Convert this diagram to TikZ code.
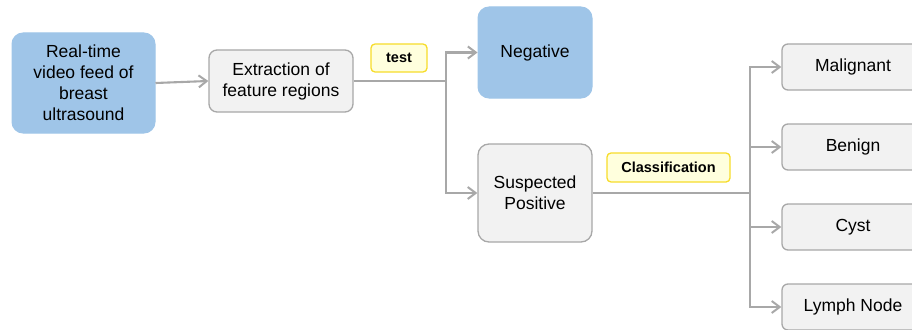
\documentclass[tikz,border=0pt]{standalone}
\usepackage{fontspec}
\setmainfont{Liberation Sans}
\usetikzlibrary{arrows.meta}

\definecolor{boxblue}{HTML}{9FC5E8}
\definecolor{boxgray}{HTML}{F2F2F2}
\definecolor{edgegray}{HTML}{A8A8A8}
\definecolor{tagfill}{HTML}{FFFFDD}
\definecolor{tagedge}{HTML}{F7DC2A}

\tikzset{
    bluebox/.style={draw=boxblue, fill=boxblue, rounded corners=11pt, line width=1pt,
        align=center, inner sep=0pt, font=\fontsize{17.5}{21}\selectfont},
    graybox/.style={draw=edgegray, fill=boxgray, rounded corners=8pt, line width=1.3pt,
        align=center, inner sep=0pt, font=\fontsize{17.5}{21}\selectfont},
    tag/.style={draw=tagedge, fill=tagfill, rounded corners=4pt, line width=1.3pt,
        inner sep=0pt, font=\bfseries\fontsize{14.5}{17}\selectfont},
    link/.style={draw=edgegray, line width=2.1pt},
    arrow/.style={link, -{Straight Barb[length=8pt,width=12pt,line width=2pt]}}
}

\begin{document}
\begin{tikzpicture}[x=1pt,y=-1pt]
    \useasboundingbox (0,0) rectangle (912,329);

    % input and feature step
    \node[bluebox, minimum width=143pt, minimum height=100pt] (feed) at (83.5,83)
        {Real-time\\video feed of\\breast\\ultrasound};
    \node[graybox, minimum width=144pt, minimum height=62pt] (extract) at (281,81)
        {Extraction of\\feature regions};

    % test outcomes
    \node[bluebox, minimum width=114pt, minimum height=91pt] (neg) at (535,52.5) {Negative};
    \node[graybox, minimum width=114pt, minimum height=98pt, rounded corners=11pt] (susp) at (535,193)
        {Suspected\\Positive};

    % classes
    \foreach \name/\txt/\y in {mal/Malignant/67, ben/Benign/147, cyst/Cyst/227, lymph/Lymph Node/307}
        \node[graybox, minimum width=142pt, minimum height=46pt, rounded corners=6pt] (\name) at (853,\y) {\txt};

    % edge tags
    \node[tag, minimum width=56pt, minimum height=28pt] (testtag) at (399,58) {test};
    \node[tag, minimum width=123pt, minimum height=29pt] (classtag) at (668.5,167.5) {Classification};

    \coordinate (split1) at (446,81);
    \coordinate (split2) at (750,193);

    \draw[arrow] (feed.east) -- (extract.west);
    \draw[link] (extract.east) -- (split1);
    \draw[arrow] (split1) |- (neg.west);
    \draw[arrow] (split1) |- (susp.west);

    \draw[link] (susp.east) -- (split2);
    \foreach \name in {mal,ben,cyst,lymph}
        \draw[arrow] (split2) |- (\name.west);
\end{tikzpicture}
\end{document}
